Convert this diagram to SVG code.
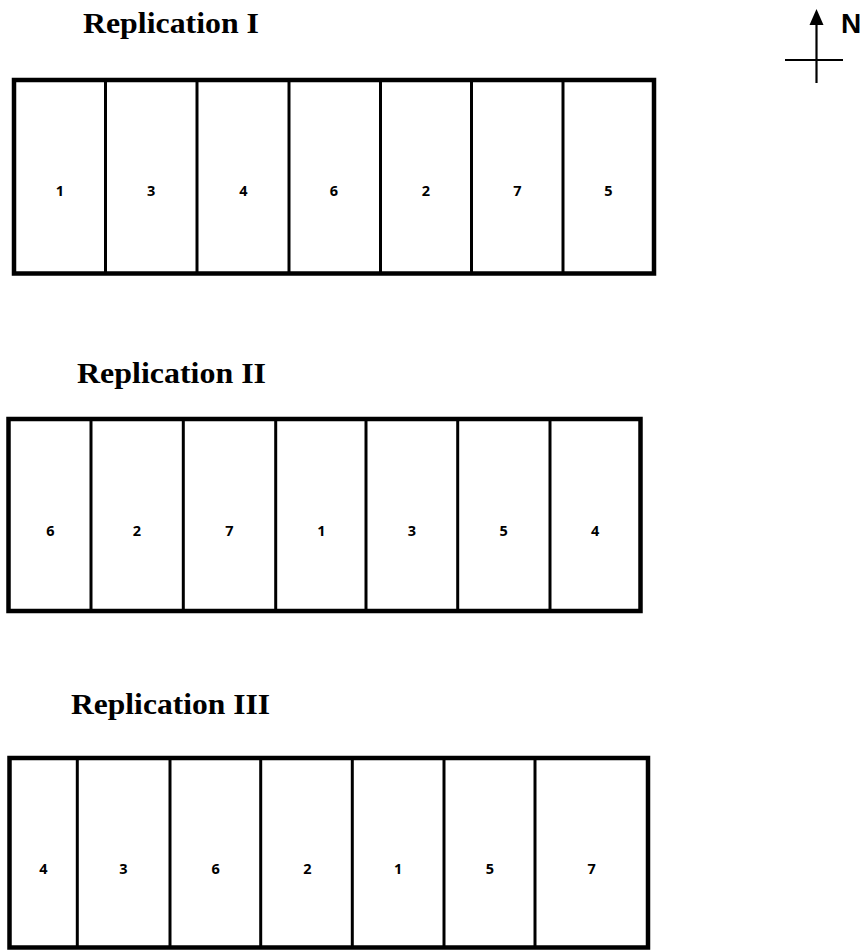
<svg xmlns="http://www.w3.org/2000/svg" width="866" height="950" viewBox="0 0 866 950">
  <style>
    .title { font-family: "Liberation Serif", "Times New Roman", serif; font-weight: bold; font-size: 29px; fill: #000; }
    .frame { fill: none; stroke: #000; stroke-width: 4.5; }
    .div { stroke: #000; stroke-width: 3; }
    .lbl { font-family: "Open Sans", "Liberation Sans", sans-serif; font-weight: bold; font-size: 14.5px; fill: #000; text-anchor: middle; }
    .north { font-family: "Liberation Sans", Arial, sans-serif; font-weight: bold; font-size: 28px; fill: #000; }
    .compass { stroke: #000; stroke-width: 2.2; fill: none; }
  </style>
  <rect width="866" height="950" fill="#fff"/>

  <!-- North indicator -->
  <g id="north-arrow">
    <line class="compass" x1="816.5" y1="83" x2="816.5" y2="24"/>
    <path d="M816.5,9 L823.5,25 L809.5,25 z" fill="#000"/>
    <line class="compass" x1="785" y1="60" x2="843" y2="60"/>
    <text class="north" x="841" y="33">N</text>
  </g>

  <!-- Replication I -->
  <g id="replication-1">
    <text class="title" x="83" y="33" textLength="176" lengthAdjust="spacingAndGlyphs">Replication I</text>
    <rect class="frame" x="14" y="80" width="640" height="193.5"/>
    <line class="div" x1="105.5" y1="80" x2="105.5" y2="273.5"/>
    <line class="div" x1="197" y1="80" x2="197" y2="273.5"/>
    <line class="div" x1="289" y1="80" x2="289" y2="273.5"/>
    <line class="div" x1="380.5" y1="80" x2="380.5" y2="273.5"/>
    <line class="div" x1="471.5" y1="80" x2="471.5" y2="273.5"/>
    <line class="div" x1="563" y1="80" x2="563" y2="273.5"/>
    <g id="r1-plot-1"><text class="lbl" x="60" y="196">1</text></g>
    <g id="r1-plot-3"><text class="lbl" x="151.2" y="196">3</text></g>
    <g id="r1-plot-4"><text class="lbl" x="243.5" y="196">4</text></g>
    <g id="r1-plot-6"><text class="lbl" x="334" y="196">6</text></g>
    <g id="r1-plot-2"><text class="lbl" x="426" y="196">2</text></g>
    <g id="r1-plot-7"><text class="lbl" x="517.5" y="196">7</text></g>
    <g id="r1-plot-5"><text class="lbl" x="608.5" y="196">5</text></g>
  </g>

  <!-- Replication II -->
  <g id="replication-2">
    <text class="title" x="77" y="383" textLength="189" lengthAdjust="spacingAndGlyphs">Replication II</text>
    <rect class="frame" x="8.5" y="419" width="632" height="192"/>
    <line class="div" x1="91" y1="419" x2="91" y2="611"/>
    <line class="div" x1="183.3" y1="419" x2="183.3" y2="611"/>
    <line class="div" x1="275.7" y1="419" x2="275.7" y2="611"/>
    <line class="div" x1="366" y1="419" x2="366" y2="611"/>
    <line class="div" x1="457.7" y1="419" x2="457.7" y2="611"/>
    <line class="div" x1="550" y1="419" x2="550" y2="611"/>
    <g id="r2-plot-6"><text class="lbl" x="50.5" y="535.5">6</text></g>
    <g id="r2-plot-2"><text class="lbl" x="137" y="535.5">2</text></g>
    <g id="r2-plot-7"><text class="lbl" x="229.3" y="535.5">7</text></g>
    <g id="r2-plot-1"><text class="lbl" x="321.3" y="535.5">1</text></g>
    <g id="r2-plot-3"><text class="lbl" x="411.8" y="535.5">3</text></g>
    <g id="r2-plot-5"><text class="lbl" x="503.6" y="535.5">5</text></g>
    <g id="r2-plot-4"><text class="lbl" x="595.2" y="535.5">4</text></g>
  </g>

  <!-- Replication III -->
  <g id="replication-3">
    <text class="title" x="71" y="714" textLength="199" lengthAdjust="spacingAndGlyphs">Replication III</text>
    <rect class="frame" x="9.5" y="758" width="638.5" height="189.5"/>
    <line class="div" x1="77.3" y1="758" x2="77.3" y2="947.5"/>
    <line class="div" x1="170" y1="758" x2="170" y2="947.5"/>
    <line class="div" x1="260.7" y1="758" x2="260.7" y2="947.5"/>
    <line class="div" x1="352.3" y1="758" x2="352.3" y2="947.5"/>
    <line class="div" x1="444" y1="758" x2="444" y2="947.5"/>
    <line class="div" x1="535" y1="758" x2="535" y2="947.5"/>
    <g id="r3-plot-4"><text class="lbl" x="43.4" y="873.5">4</text></g>
    <g id="r3-plot-3"><text class="lbl" x="123.5" y="873.5">3</text></g>
    <g id="r3-plot-6"><text class="lbl" x="215.7" y="873.5">6</text></g>
    <g id="r3-plot-2"><text class="lbl" x="307.4" y="873.5">2</text></g>
    <g id="r3-plot-1"><text class="lbl" x="398.2" y="873.5">1</text></g>
    <g id="r3-plot-5"><text class="lbl" x="489.8" y="873.5">5</text></g>
    <g id="r3-plot-7"><text class="lbl" x="591.6" y="873.5">7</text></g>
  </g>
</svg>
